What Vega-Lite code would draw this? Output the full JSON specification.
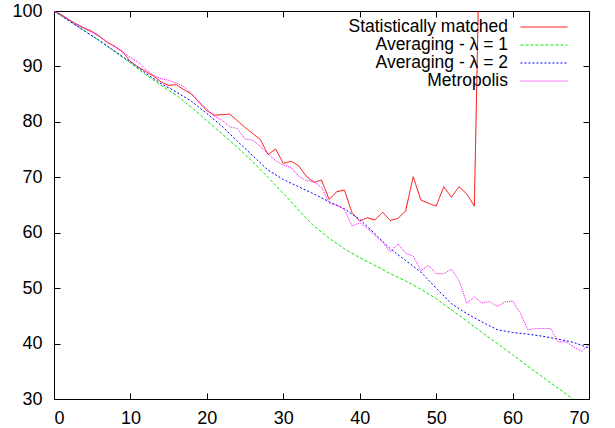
{
  "$schema": "https://vega.github.io/schema/vega-lite/v6.json",
  "width": 535,
  "height": 388,
  "autosize": {"type": "none"},
  "padding": {"left": 54, "top": 11, "right": 26, "bottom": 29},
  "background": "white",
  "config": {
    "view": {"stroke": "black", "strokeWidth": 1},
    "font": "Liberation Sans",
    "axis": {"domain": false, "grid": false, "labelFont": "Liberation Sans", "labelFontSize": 18, "labelColor": "black", "tickColor": "black", "tickSize": -6, "tickWidth": 1, "title": null}
  },
  "data": {"values": [
    {"s":"Statistically matched","x":0,"y":100},{"s":"Statistically matched","x":1,"y":99.3},{"s":"Statistically matched","x":2,"y":98.4},{"s":"Statistically matched","x":3,"y":97.6},{"s":"Statistically matched","x":4,"y":96.9},{"s":"Statistically matched","x":5,"y":96.3},{"s":"Statistically matched","x":6,"y":95.4},{"s":"Statistically matched","x":7,"y":94.3},{"s":"Statistically matched","x":8,"y":93.6},{"s":"Statistically matched","x":9,"y":92.6},{"s":"Statistically matched","x":10,"y":90.9},{"s":"Statistically matched","x":11,"y":89.9},{"s":"Statistically matched","x":12,"y":89.1},{"s":"Statistically matched","x":13,"y":88.3},{"s":"Statistically matched","x":14,"y":87.2},{"s":"Statistically matched","x":15,"y":86.6},{"s":"Statistically matched","x":16,"y":86.7},{"s":"Statistically matched","x":17,"y":85.8},{"s":"Statistically matched","x":18,"y":85.0},{"s":"Statistically matched","x":19,"y":83.5},{"s":"Statistically matched","x":20,"y":82.0},{"s":"Statistically matched","x":21,"y":81.2},{"s":"Statistically matched","x":22,"y":81.3},{"s":"Statistically matched","x":23,"y":81.4},{"s":"Statistically matched","x":24,"y":80.2},{"s":"Statistically matched","x":25,"y":79.0},{"s":"Statistically matched","x":26,"y":77.9},{"s":"Statistically matched","x":27,"y":76.8},{"s":"Statistically matched","x":28,"y":74.1},{"s":"Statistically matched","x":29,"y":75.1},{"s":"Statistically matched","x":30,"y":72.5},{"s":"Statistically matched","x":31,"y":72.9},{"s":"Statistically matched","x":32,"y":72.1},{"s":"Statistically matched","x":33,"y":70.2},{"s":"Statistically matched","x":34,"y":69.1},{"s":"Statistically matched","x":35,"y":69.5},{"s":"Statistically matched","x":36,"y":66.0},{"s":"Statistically matched","x":37,"y":67.4},{"s":"Statistically matched","x":38,"y":67.7},{"s":"Statistically matched","x":39,"y":63.6},{"s":"Statistically matched","x":40,"y":62.1},{"s":"Statistically matched","x":41,"y":62.7},{"s":"Statistically matched","x":42,"y":62.3},{"s":"Statistically matched","x":43,"y":63.7},{"s":"Statistically matched","x":44,"y":62.2},{"s":"Statistically matched","x":45,"y":62.6},{"s":"Statistically matched","x":46,"y":63.9},{"s":"Statistically matched","x":47,"y":70.1},{"s":"Statistically matched","x":48,"y":65.9},{"s":"Statistically matched","x":49,"y":65.3},{"s":"Statistically matched","x":50,"y":64.8},{"s":"Statistically matched","x":51,"y":68.3},{"s":"Statistically matched","x":52,"y":66.4},{"s":"Statistically matched","x":53,"y":68.3},{"s":"Statistically matched","x":54,"y":67.0},{"s":"Statistically matched","x":55,"y":64.8},{"s":"Statistically matched","x":56,"y":135},
    {"s":"Averaging - λ = 1","x":0,"y":100},{"s":"Averaging - λ = 1","x":2,"y":98.2},{"s":"Averaging - λ = 1","x":4,"y":96.4},{"s":"Averaging - λ = 1","x":6,"y":94.6},{"s":"Averaging - λ = 1","x":8,"y":92.6},{"s":"Averaging - λ = 1","x":10,"y":90.6},{"s":"Averaging - λ = 1","x":12,"y":88.5},{"s":"Averaging - λ = 1","x":14,"y":86.6},{"s":"Averaging - λ = 1","x":16,"y":84.8},{"s":"Averaging - λ = 1","x":18,"y":82.6},{"s":"Averaging - λ = 1","x":20,"y":80.2},{"s":"Averaging - λ = 1","x":22,"y":77.8},{"s":"Averaging - λ = 1","x":24,"y":75.4},{"s":"Averaging - λ = 1","x":26,"y":72.8},{"s":"Averaging - λ = 1","x":28,"y":70.0},{"s":"Averaging - λ = 1","x":30,"y":67.1},{"s":"Averaging - λ = 1","x":32,"y":64.1},{"s":"Averaging - λ = 1","x":34,"y":61.2},{"s":"Averaging - λ = 1","x":36,"y":59.0},{"s":"Averaging - λ = 1","x":38,"y":57.1},{"s":"Averaging - λ = 1","x":40,"y":55.5},{"s":"Averaging - λ = 1","x":42,"y":54.1},{"s":"Averaging - λ = 1","x":44,"y":52.6},{"s":"Averaging - λ = 1","x":46,"y":51.3},{"s":"Averaging - λ = 1","x":48,"y":49.8},{"s":"Averaging - λ = 1","x":50,"y":48.1},{"s":"Averaging - λ = 1","x":52,"y":46.1},{"s":"Averaging - λ = 1","x":54,"y":44.1},{"s":"Averaging - λ = 1","x":56,"y":42.0},{"s":"Averaging - λ = 1","x":58,"y":40.0},{"s":"Averaging - λ = 1","x":60,"y":38.0},{"s":"Averaging - λ = 1","x":62,"y":35.9},{"s":"Averaging - λ = 1","x":64,"y":33.9},{"s":"Averaging - λ = 1","x":66,"y":31.9},{"s":"Averaging - λ = 1","x":68,"y":29.9},{"s":"Averaging - λ = 1","x":70,"y":27.9},
    {"s":"Averaging - λ = 2","x":0,"y":100},{"s":"Averaging - λ = 2","x":2,"y":98.2},{"s":"Averaging - λ = 2","x":4,"y":96.4},{"s":"Averaging - λ = 2","x":6,"y":94.6},{"s":"Averaging - λ = 2","x":8,"y":92.7},{"s":"Averaging - λ = 2","x":10,"y":90.8},{"s":"Averaging - λ = 2","x":12,"y":88.8},{"s":"Averaging - λ = 2","x":14,"y":86.9},{"s":"Averaging - λ = 2","x":16,"y":85.4},{"s":"Averaging - λ = 2","x":18,"y":83.7},{"s":"Averaging - λ = 2","x":20,"y":81.5},{"s":"Averaging - λ = 2","x":22,"y":79.2},{"s":"Averaging - λ = 2","x":24,"y":76.5},{"s":"Averaging - λ = 2","x":26,"y":73.9},{"s":"Averaging - λ = 2","x":28,"y":71.3},{"s":"Averaging - λ = 2","x":30,"y":69.6},{"s":"Averaging - λ = 2","x":32,"y":68.3},{"s":"Averaging - λ = 2","x":34,"y":67.0},{"s":"Averaging - λ = 2","x":36,"y":65.6},{"s":"Averaging - λ = 2","x":38,"y":64.3},{"s":"Averaging - λ = 2","x":40,"y":62.4},{"s":"Averaging - λ = 2","x":42,"y":59.8},{"s":"Averaging - λ = 2","x":44,"y":57.1},{"s":"Averaging - λ = 2","x":46,"y":55.0},{"s":"Averaging - λ = 2","x":48,"y":52.9},{"s":"Averaging - λ = 2","x":50,"y":50.0},{"s":"Averaging - λ = 2","x":52,"y":47.2},{"s":"Averaging - λ = 2","x":54,"y":45.4},{"s":"Averaging - λ = 2","x":56,"y":43.9},{"s":"Averaging - λ = 2","x":58,"y":42.5},{"s":"Averaging - λ = 2","x":60,"y":42.0},{"s":"Averaging - λ = 2","x":62,"y":41.7},{"s":"Averaging - λ = 2","x":64,"y":41.3},{"s":"Averaging - λ = 2","x":66,"y":40.8},{"s":"Averaging - λ = 2","x":68,"y":40.2},{"s":"Averaging - λ = 2","x":70,"y":39.2},
    {"s":"Metropolis","x":0,"y":100},{"s":"Metropolis","x":1,"y":99.2},{"s":"Metropolis","x":2,"y":98.3},{"s":"Metropolis","x":3,"y":97.5},{"s":"Metropolis","x":4,"y":96.8},{"s":"Metropolis","x":5,"y":96.1},{"s":"Metropolis","x":6,"y":95.3},{"s":"Metropolis","x":7,"y":94.4},{"s":"Metropolis","x":8,"y":93.5},{"s":"Metropolis","x":9,"y":92.6},{"s":"Metropolis","x":10,"y":91.6},{"s":"Metropolis","x":11,"y":90.8},{"s":"Metropolis","x":12,"y":89.5},{"s":"Metropolis","x":13,"y":88.4},{"s":"Metropolis","x":14,"y":87.8},{"s":"Metropolis","x":15,"y":87.5},{"s":"Metropolis","x":16,"y":87.0},{"s":"Metropolis","x":17,"y":86.4},{"s":"Metropolis","x":18,"y":85.0},{"s":"Metropolis","x":19,"y":83.6},{"s":"Metropolis","x":20,"y":82.3},{"s":"Metropolis","x":21,"y":81.0},{"s":"Metropolis","x":22,"y":80.3},{"s":"Metropolis","x":23,"y":79.1},{"s":"Metropolis","x":24,"y":78.8},{"s":"Metropolis","x":25,"y":76.9},{"s":"Metropolis","x":26,"y":76.7},{"s":"Metropolis","x":27,"y":75.6},{"s":"Metropolis","x":28,"y":74.2},{"s":"Metropolis","x":29,"y":73.0},{"s":"Metropolis","x":30,"y":72.2},{"s":"Metropolis","x":31,"y":71.8},{"s":"Metropolis","x":32,"y":70.2},{"s":"Metropolis","x":33,"y":69.4},{"s":"Metropolis","x":34,"y":69.2},{"s":"Metropolis","x":35,"y":68.2},{"s":"Metropolis","x":36,"y":65.3},{"s":"Metropolis","x":37,"y":65.0},{"s":"Metropolis","x":38,"y":64.2},{"s":"Metropolis","x":39,"y":61.2},{"s":"Metropolis","x":40,"y":61.8},{"s":"Metropolis","x":41,"y":60.8},{"s":"Metropolis","x":42,"y":59.5},{"s":"Metropolis","x":43,"y":58.3},{"s":"Metropolis","x":44,"y":56.5},{"s":"Metropolis","x":45,"y":58.0},{"s":"Metropolis","x":46,"y":56.3},{"s":"Metropolis","x":47,"y":55.8},{"s":"Metropolis","x":48,"y":53.2},{"s":"Metropolis","x":49,"y":54.1},{"s":"Metropolis","x":50,"y":52.6},{"s":"Metropolis","x":51,"y":52.6},{"s":"Metropolis","x":52,"y":53.4},{"s":"Metropolis","x":53,"y":51.4},{"s":"Metropolis","x":54,"y":47.3},{"s":"Metropolis","x":55,"y":48.4},{"s":"Metropolis","x":56,"y":47.3},{"s":"Metropolis","x":57,"y":47.6},{"s":"Metropolis","x":58,"y":46.7},{"s":"Metropolis","x":59,"y":47.5},{"s":"Metropolis","x":60,"y":47.7},{"s":"Metropolis","x":61,"y":45.5},{"s":"Metropolis","x":62,"y":42.5},{"s":"Metropolis","x":63,"y":42.7},{"s":"Metropolis","x":64,"y":42.7},{"s":"Metropolis","x":65,"y":42.7},{"s":"Metropolis","x":66,"y":40.3},{"s":"Metropolis","x":67,"y":40.3},{"s":"Metropolis","x":68,"y":39.4},{"s":"Metropolis","x":69,"y":38.6},{"s":"Metropolis","x":70,"y":39.8}
  ]},
  "layer": [
    {
      "mark": {"type": "line", "clip": true, "strokeWidth": 1},
      "encoding": {
        "x": {"field": "x", "type": "quantitative", "scale": {"domain": [0, 70], "nice": false, "zero": false}, "axis": {"orient": "bottom", "values": [0,10,20,30,40,50,60,70], "labelPadding": 16}},
        "y": {"field": "y", "type": "quantitative", "scale": {"domain": [30, 100], "nice": false, "zero": false}, "axis": {"orient": "left", "values": [30,40,50,60,70,80,90,100], "labelPadding": 18}},
        "color": {"field": "s", "type": "nominal", "scale": {"domain": ["Statistically matched", "Averaging - λ = 1", "Averaging - λ = 2", "Metropolis"], "range": ["#ff0000", "#00ee00", "#0000ff", "#ff00ff"]},
          "legend": {"orient": "none", "legendX": 466, "legendY": 7, "title": null, "symbolType": "stroke", "symbolSize": 2209, "symbolStrokeWidth": 1, "labelAlign": "right", "labelOffset": -60, "labelFontSize": 17.5, "labelFont": "Liberation Sans", "labelColor": "black", "clipHeight": 18, "rowPadding": 0, "padding": 0, "labelLimit": 0,
            "encode": {"entries": {"update": {"width": {"value": 50}}}}}},
        "strokeDash": {"field": "s", "type": "nominal", "scale": {"domain": ["Statistically matched", "Averaging - λ = 1", "Averaging - λ = 2", "Metropolis"], "range": [[1, 0], [3, 2], [2, 2], [1, 1]]},
          "legend": {"orient": "none", "legendX": 466, "legendY": 7, "title": null, "symbolType": "stroke", "symbolSize": 2209, "symbolStrokeWidth": 1, "labelAlign": "right", "labelOffset": -60, "labelFontSize": 17.5, "labelFont": "Liberation Sans", "labelColor": "black", "clipHeight": 18, "rowPadding": 0, "padding": 0, "labelLimit": 0,
            "encode": {"entries": {"update": {"width": {"value": 50}}}}}},
        "order": {"field": "x", "type": "quantitative"}
      }
    },
    {
      "mark": {"type": "point", "opacity": 0},
      "encoding": {
        "x": {"field": "x", "type": "quantitative", "scale": {"domain": [0, 70], "nice": false, "zero": false}, "axis": {"orient": "top", "values": [0,10,20,30,40,50,60,70], "labels": false}},
        "y": {"field": "y", "type": "quantitative", "scale": {"domain": [30, 100], "nice": false, "zero": false}, "axis": {"orient": "right", "values": [30,40,50,60,70,80,90,100], "labels": false}}
      }
    }
  ],
  "resolve": {"axis": {"x": "independent", "y": "independent"}}
}
